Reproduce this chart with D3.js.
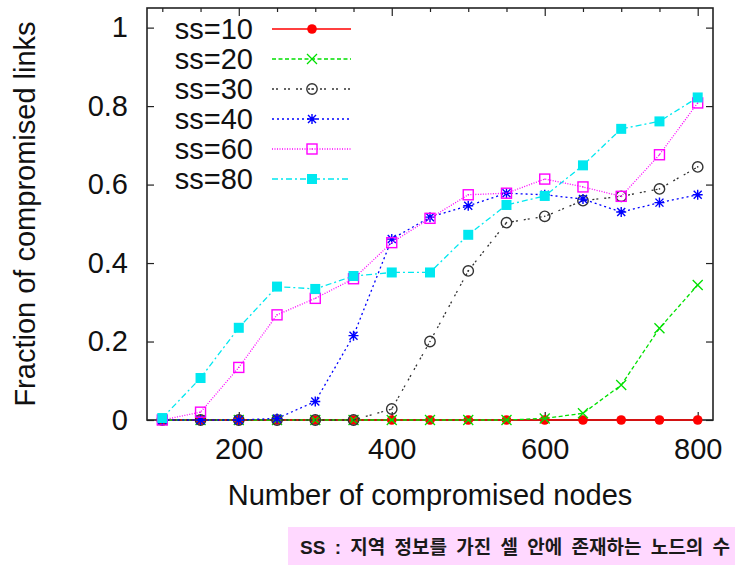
<!DOCTYPE html>
<html>
<head>
<meta charset="utf-8">
<script src="https://cdn.jsdelivr.net/npm/d3@7"></script>
<style>
  html, body { margin: 0; padding: 0; background: #ffffff; }
  svg { display: block; }
</style>
</head>
<body>
<svg id="chart" width="735" height="565"></svg>
<script>
// Number of compromised nodes (x values shared by every series)
const nodes = [100, 150, 200, 250, 300, 350, 400, 450, 500, 550, 600, 650, 700, 750, 800];

// Fraction of compromised links per cell size
const ss10 = [0, 0, 0, 0, 0, 0, 0, 0, 0, 0, 0, 0, 0, 0, 0];
const ss20 = [0, 0, 0, 0, 0, 0, 0, 0, 0, 0, 0.004, 0.017, 0.089, 0.234, 0.344];
const ss30 = [0, 0, 0, 0, 0, 0, 0.028, 0.200, 0.380, 0.503, 0.519, 0.559, 0.570, 0.589, 0.645];
const ss40 = [0, 0, 0, 0.004, 0.047, 0.215, 0.461, 0.517, 0.546, 0.578, 0.574, 0.563, 0.530, 0.554, 0.574];
const ss60 = [0, 0.020, 0.134, 0.268, 0.310, 0.360, 0.452, 0.514, 0.574, 0.578, 0.614, 0.594, 0.570, 0.676, 0.808];
const ss80 = [0.005, 0.107, 0.235, 0.340, 0.334, 0.367, 0.376, 0.376, 0.472, 0.548, 0.571, 0.649, 0.742, 0.761, 0.822];

const seriesNames = ["ss=10", "ss=20", "ss=30", "ss=40", "ss=60", "ss=80"];
const seriesValues = [ss10, ss20, ss30, ss40, ss60, ss80];

const xMajorTicks = [200, 400, 600, 800];
const xMinorTicks = [100, 150, 250, 300, 350, 450, 500, 550, 650, 700, 750];
const yTicks = [0, 0.2, 0.4, 0.6, 0.8, 1];

const xTitle = "Number of compromised nodes";
const yTitle = "Fraction of compromised links";
const noteText = "SS : 지역 정보를 가진 셀 안에 존재하는 노드의 수";

// Drawing styles for each series
const styles = [
  { color: "#ff0000", dash: null,        marker: "dot" },
  { color: "#00e000", dash: "4,2.5",     marker: "cross" },
  { color: "#333333", dash: "2,2,2,6",   marker: "circle" },
  { color: "#0000ff", dash: "2,3",       marker: "star" },
  { color: "#ff00ff", dash: "1,1.5",     marker: "square" },
  { color: "#00e8f0", dash: "6,3,2,3",   marker: "fsquare" }
];

const FONT = '"Liberation Sans", Arial, Helvetica, sans-serif';
const FS = 29;

const margin = { left: 147, right: 713, top: 8, bottom: 420 };
const svg = d3.select("#chart");

const x = d3.scaleLinear().domain([80, 820]).range([margin.left, margin.right]);
const y = d3.scaleLinear().domain([0, 1.05]).range([margin.bottom, margin.top]);

// Axes with inward ticks on all four sides
function styleAxis(g, withText) {
  g.select(".domain").remove();
  g.selectAll(".tick line").attr("stroke", "#222").attr("stroke-width", 1.2);
  g.selectAll(".tick text")
    .attr("fill", withText ? "#111" : "none")
    .style("font-size", FS + "px")
    .style("font-family", FONT);
}

svg.append("g").attr("transform", `translate(0,${margin.bottom})`)
  .call(d3.axisBottom(x).tickValues(xMajorTicks).tickSize(-8).tickPadding(18).tickFormat(d3.format("d")))
  .call(g => styleAxis(g, true));
svg.append("g").attr("transform", `translate(0,${margin.bottom})`)
  .call(d3.axisBottom(x).tickValues(xMinorTicks).tickSize(-4).tickFormat(""))
  .call(g => styleAxis(g, false));
svg.append("g").attr("transform", `translate(0,${margin.top})`)
  .call(d3.axisTop(x).tickValues(xMajorTicks).tickSize(-8).tickFormat(""))
  .call(g => styleAxis(g, false));
svg.append("g").attr("transform", `translate(0,${margin.top})`)
  .call(d3.axisTop(x).tickValues(xMinorTicks).tickSize(-4).tickFormat(""))
  .call(g => styleAxis(g, false));
svg.append("g").attr("transform", `translate(${margin.left},0)`)
  .call(d3.axisLeft(y).tickValues(yTicks).tickSize(-7).tickPadding(19).tickFormat(d => d === 0 || d === 1 ? d3.format("d")(d) : d3.format(".1f")(d)))
  .call(g => styleAxis(g, true));
svg.append("g").attr("transform", `translate(${margin.right},0)`)
  .call(d3.axisRight(y).tickValues(yTicks).tickSize(-7).tickFormat(""))
  .call(g => styleAxis(g, false));

// Plot frame
svg.append("rect")
  .attr("x", margin.left).attr("y", margin.top)
  .attr("width", margin.right - margin.left).attr("height", margin.bottom - margin.top)
  .attr("fill", "none").attr("stroke", "#222").attr("stroke-width", 1.6);

// Marker drawing
function drawMarker(g, type, cx, cy, color) {
  const s = 5;
  if (type === "dot") {
    g.append("circle").attr("cx", cx).attr("cy", cy).attr("r", 4.8).attr("fill", color);
  } else if (type === "cross") {
    g.append("path").attr("d", `M${cx - s},${cy - s}L${cx + s},${cy + s}M${cx - s},${cy + s}L${cx + s},${cy - s}`)
      .attr("stroke", color).attr("stroke-width", 1.3).attr("fill", "none");
  } else if (type === "circle") {
    g.append("circle").attr("cx", cx).attr("cy", cy).attr("r", 5.2)
      .attr("fill", "none").attr("stroke", color).attr("stroke-width", 1.4);
    g.append("circle").attr("cx", cx).attr("cy", cy).attr("r", 0.8).attr("fill", color);
  } else if (type === "star") {
    g.append("path").attr("d",
      `M${cx - s},${cy}L${cx + s},${cy}M${cx},${cy - s}L${cx},${cy + s}` +
      `M${cx - s * 0.8},${cy - s * 0.8}L${cx + s * 0.8},${cy + s * 0.8}M${cx - s * 0.8},${cy + s * 0.8}L${cx + s * 0.8},${cy - s * 0.8}`)
      .attr("stroke", color).attr("stroke-width", 1.4).attr("fill", "none");
    g.append("circle").attr("cx", cx).attr("cy", cy).attr("r", 1.8).attr("fill", color);
  } else if (type === "square") {
    g.append("rect").attr("x", cx - 5).attr("y", cy - 5).attr("width", 10).attr("height", 10)
      .attr("fill", "none").attr("stroke", color).attr("stroke-width", 1.4);
    g.append("circle").attr("cx", cx).attr("cy", cy).attr("r", 0.7).attr("fill", color);
  } else if (type === "fsquare") {
    g.append("rect").attr("x", cx - 5).attr("y", cy - 5).attr("width", 10).attr("height", 10)
      .attr("fill", color);
  }
}

// Series lines and markers
const line = d3.line().x(d => x(d[0])).y(d => y(d[1]));
seriesValues.forEach((vals, i) => {
  const st = styles[i];
  const pts = nodes.map((n, j) => [n, vals[j]]);
  const g = svg.append("g").attr("class", "series");
  g.append("path").datum(pts).attr("d", line)
    .attr("fill", "none").attr("stroke", st.color).attr("stroke-width", 1.3)
    .attr("stroke-dasharray", st.dash);
  pts.forEach(p => drawMarker(g, st.marker, x(p[0]), y(p[1]), st.color));
});

// Legend
const legend = svg.append("g").attr("class", "legend");
seriesNames.forEach((name, i) => {
  const st = styles[i];
  const ry = 29 + i * 30;
  legend.append("text").attr("x", 253).attr("y", ry).attr("dy", "0.35em")
    .attr("text-anchor", "end").style("font-family", FONT).style("font-size", FS + "px")
    .attr("fill", "#111").text(name);
  legend.append("line").attr("x1", 272).attr("x2", 351).attr("y1", ry).attr("y2", ry)
    .attr("stroke", st.color).attr("stroke-width", 1.3).attr("stroke-dasharray", st.dash);
  drawMarker(legend, st.marker, 312, ry, st.color);
});

// Axis titles
svg.append("text").attr("x", (margin.left + margin.right) / 2).attr("y", 505)
  .attr("text-anchor", "middle").style("font-family", FONT).style("font-size", FS + "px")
  .attr("fill", "#111").text(xTitle);
svg.append("text").attr("transform", `translate(35,${(margin.top + margin.bottom) / 2}) rotate(-90)`)
  .attr("text-anchor", "middle").style("font-family", FONT).style("font-size", FS + "px")
  .attr("fill", "#111").text(yTitle);

// Note box: words keep natural glyph spacing, gaps between words are widened to fill the line
svg.append("rect").attr("x", 288).attr("y", 527).attr("width", 447).attr("height", 38).attr("fill", "#ffd8ff");
const note = svg.append("text").attr("x", 300).attr("y", 554)
  .style("font-family", '"Liberation Sans", "Noto Sans CJK KR", sans-serif')
  .style("font-size", "19px").style("font-weight", "bold")
  .attr("fill", "#1a1a1a").text(noteText);
const noteWidth = 430;
const natural = note.node().getComputedTextLength();
const gaps = noteText.split(" ").length - 1;
note.style("word-spacing", Math.max(0, (noteWidth - natural) / gaps) + "px");
</script>
</body>
</html>
